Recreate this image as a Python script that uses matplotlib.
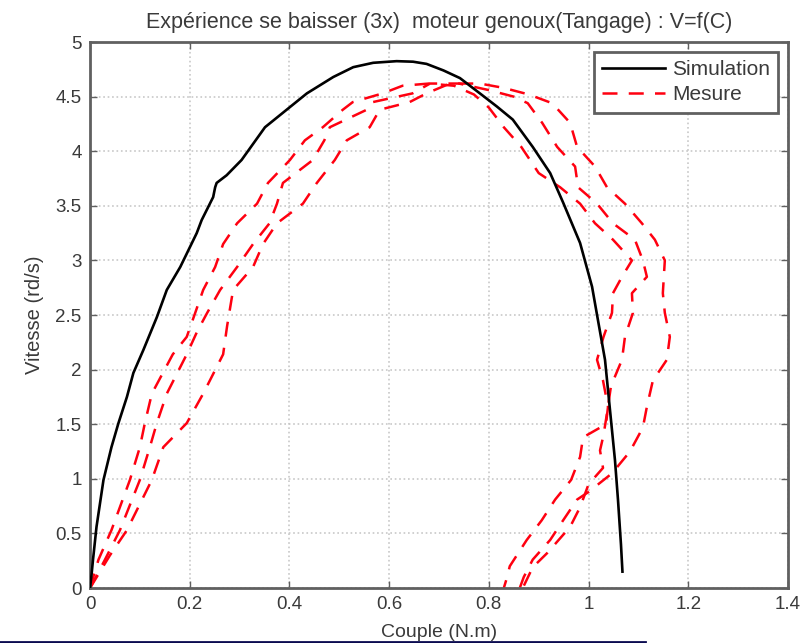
# V=f(C) curve: simulation vs measure (3 loops) for the knee motor
import matplotlib.pyplot as plt
from matplotlib.lines import Line2D

plt.rcParams['font.family'] = ['Liberation Sans', 'DejaVu Sans']

# Simulation curve
sim_c = [0, 0.003, 0.006, 0.013, 0.027, 0.043, 0.057, 0.074, 0.087, 0.107,
         0.134, 0.154, 0.181, 0.214, 0.224, 0.247, 0.251, 0.254, 0.274, 0.304,
         0.351, 0.435, 0.488, 0.528, 0.568, 0.615, 0.648, 0.675, 0.709, 0.742,
         0.782, 0.816, 0.848, 0.888, 0.923, 0.949, 0.983, 1.007, 1.019, 1.033,
         1.043, 1.053, 1.059, 1.065, 1.068]
sim_v = [0, 0.12, 0.26, 0.56, 0.99, 1.29, 1.51, 1.75, 1.97, 2.18,
         2.48, 2.73, 2.94, 3.25, 3.37, 3.58, 3.67, 3.71, 3.78, 3.92,
         4.22, 4.53, 4.68, 4.77, 4.81, 4.825, 4.82, 4.80, 4.74, 4.67,
         4.53, 4.41, 4.29, 4.04, 3.80, 3.53, 3.16, 2.76, 2.45, 2.09,
         1.63, 1.17, 0.81, 0.40, 0.15]

# Measure, loop 1 (inner)
m1_c = [0, 0.017, 0.043, 0.080, 0.10, 0.11, 0.124, 0.166, 0.194, 0.211,
        0.227, 0.251, 0.267, 0.295, 0.335, 0.357, 0.401, 0.431, 0.467, 0.507,
        0.527, 0.587, 0.627, 0.68, 0.73, 0.77, 0.80, 0.83, 0.865, 0.90,
        0.943, 0.983, 1.013, 1.049, 1.087, 1.067, 1.049, 1.047, 1.03, 1.017,
        1.029, 1.039, 1.035, 0.989, 0.983, 0.965, 0.933, 0.906, 0.876, 0.842,
        0.836, 0.83]
m1_v = [0, 0.26, 0.53, 0.99, 1.29, 1.51, 1.78, 2.14, 2.30, 2.52,
        2.73, 2.94, 3.15, 3.34, 3.52, 3.71, 3.92, 4.10, 4.22, 4.38,
        4.45, 4.53, 4.60, 4.62, 4.60, 4.52, 4.40, 4.22, 4.04, 3.80,
        3.67, 3.52, 3.34, 3.19, 3.00, 2.85, 2.70, 2.52, 2.30, 2.09,
        1.90, 1.66, 1.50, 1.38, 1.20, 0.99, 0.81, 0.62, 0.44, 0.20,
        0.09, 0.0]

# Measure, loop 2
m2_c = [0, 0.030, 0.060, 0.10, 0.12, 0.134, 0.154, 0.194, 0.215, 0.235,
        0.261, 0.295, 0.327, 0.36, 0.375, 0.387, 0.447, 0.47, 0.481, 0.555,
        0.567, 0.647, 0.682, 0.74, 0.80, 0.85, 0.878, 0.907, 0.937, 0.973,
        0.979, 1.017, 1.049, 1.093, 1.109, 1.117, 1.087, 1.089, 1.073, 1.067,
        1.045, 1.037, 1.03, 1.023, 1.029, 1.0, 0.983, 0.963, 0.917, 0.888,
        0.868]
m2_v = [0, 0.26, 0.53, 0.99, 1.29, 1.51, 1.78, 2.14, 2.35, 2.52,
        2.73, 2.94, 3.15, 3.34, 3.52, 3.71, 3.92, 4.10, 4.22, 4.38,
        4.45, 4.53, 4.62, 4.62, 4.56, 4.50, 4.44, 4.26, 4.04, 3.86,
        3.67, 3.52, 3.34, 3.19, 3.00, 2.85, 2.70, 2.52, 2.30, 2.09,
        1.85, 1.60, 1.40, 1.26, 1.10, 0.95, 0.74, 0.56, 0.32, 0.19,
        0.0]

# Measure, loop 3 (outer)
m3_c = [0, 0.04, 0.074, 0.124, 0.147, 0.194, 0.227, 0.267, 0.275, 0.287,
        0.327, 0.347, 0.375, 0.427, 0.455, 0.491, 0.515, 0.561, 0.581, 0.641,
        0.675, 0.722, 0.782, 0.83, 0.88, 0.927, 0.963, 0.977, 1.013, 1.037,
        1.073, 1.107, 1.133, 1.153, 1.149, 1.153, 1.163, 1.157, 1.129, 1.117,
        1.109, 1.083, 1.047, 1.0, 0.977, 0.949, 0.923, 0.888, 0.87, 0.862]
m3_v = [0, 0.30, 0.53, 0.99, 1.29, 1.51, 1.78, 2.14, 2.40, 2.73,
        2.94, 3.15, 3.34, 3.52, 3.71, 3.92, 4.10, 4.22, 4.38, 4.45,
        4.53, 4.62, 4.62, 4.58, 4.52, 4.44, 4.26, 4.04, 3.86, 3.67,
        3.52, 3.34, 3.19, 3.00, 2.70, 2.52, 2.30, 2.09, 1.90, 1.66,
        1.47, 1.25, 1.05, 0.88, 0.81, 0.62, 0.44, 0.26, 0.10, 0.0]

xticks = [0, 0.2, 0.4, 0.6, 0.8, 1, 1.2, 1.4]
xtick_labels = ['0', '0.2', '0.4', '0.6', '0.8', '1', '1.2', '1.4']
yticks = [0, 0.5, 1, 1.5, 2, 2.5, 3, 3.5, 4, 4.5, 5]
ytick_labels = ['0', '0.5', '1', '1.5', '2', '2.5', '3', '3.5', '4', '4.5', '5']

txt = '#3a3a3a'
frame = '#606060'

fig = plt.figure(figsize=(8.11, 6.43), dpi=100)
ax = fig.add_axes([0.111, 0.0855, 0.8606, 0.8491])

ax.plot(sim_c, sim_v, color='k', lw=1.9, label='Simulation', zorder=3)
red_dash = dict(color='#ff0010', lw=1.8, ls=(0, (6, 4.5)))
ax.plot(m1_c, m1_v, label='Mesure', **red_dash)
ax.plot(m2_c, m2_v, **red_dash)
ax.plot(m3_c, m3_v, **red_dash)

# Axis limits and ticks, MATLAB style
ax.set_xlim(0, 1.4)
ax.set_ylim(0, 5)
ax.set_xticks(xticks)
ax.set_xticklabels(xtick_labels)
ax.set_yticks(yticks)
ax.set_yticklabels(ytick_labels)
ax.tick_params(direction='in', top=True, right=True, length=5, width=1,
               color=frame, labelsize=13.5, labelcolor=txt, pad=6)
ax.grid(True, ls=':', color='#c8c8c8', lw=1.2)
for s in ax.spines.values():
    s.set_color(frame)
    s.set_linewidth(2)

ax.set_xlabel('Couple (N.m)', fontsize=14, color=txt, labelpad=8)
ax.set_ylabel('Vitesse (rd/s)', fontsize=14.5, color=txt, labelpad=8)
ax.set_title('Expérience se baisser (3x)  moteur genoux(Tangage) : V=f(C)',
             fontsize=15.5, color=txt, pad=10)

leg = ax.legend(loc='upper right', bbox_to_anchor=(0.986, 0.982),
                borderaxespad=0, fancybox=False, fontsize=15,
                handlelength=3.0, handletextpad=0.35, borderpad=0.4,
                labelspacing=0.3, framealpha=1)
leg.get_frame().set_edgecolor(frame)
leg.get_frame().set_linewidth(2)
for t in leg.get_texts():
    t.set_color(txt)

# dark strip along the bottom edge of the original screenshot
fig.add_artist(Line2D([0, 0.795], [0.002, 0.002], transform=fig.transFigure,
                      color='#0b0b50', lw=2))

fig.savefig('out.png', dpi=100)
